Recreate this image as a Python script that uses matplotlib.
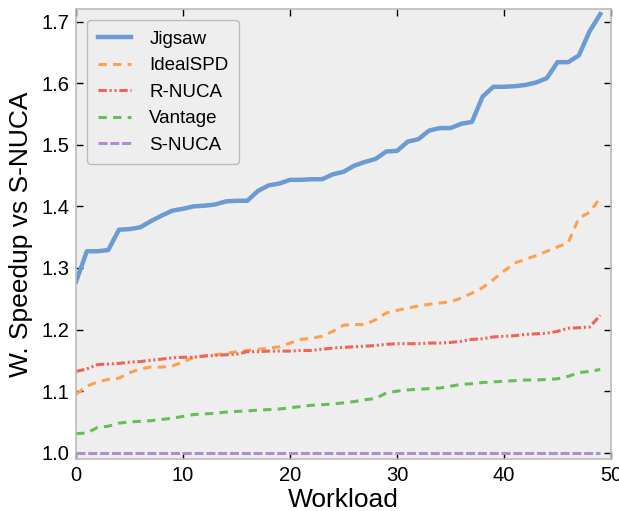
import numpy as np
import matplotlib
matplotlib.use("Agg")
from matplotlib import pyplot as plt

plt.rcParams["font.family"] = ["Liberation Sans", "DejaVu Sans"]
plt.rcParams["lines.scale_dashes"] = False

workload = np.arange(50)

jigsaw = [1.278, 1.327, 1.327, 1.329, 1.362, 1.363, 1.366, 1.376, 1.385, 1.393,
          1.396, 1.400, 1.401, 1.403, 1.408, 1.409, 1.409, 1.425, 1.434, 1.437,
          1.443, 1.443, 1.444, 1.444, 1.452, 1.456, 1.466, 1.472, 1.477, 1.489,
          1.490, 1.505, 1.509, 1.523, 1.527, 1.527, 1.534, 1.537, 1.578, 1.594,
          1.594, 1.595, 1.597, 1.601, 1.608, 1.634, 1.634, 1.645, 1.684, 1.712]

ideal_spd = [1.095, 1.108, 1.115, 1.119, 1.121, 1.130, 1.136, 1.139, 1.139, 1.141,
             1.147, 1.155, 1.157, 1.159, 1.161, 1.164, 1.166, 1.168, 1.170, 1.172,
             1.178, 1.184, 1.186, 1.189, 1.197, 1.207, 1.208, 1.208, 1.216, 1.227,
             1.231, 1.235, 1.238, 1.241, 1.243, 1.245, 1.251, 1.259, 1.268, 1.281,
             1.295, 1.308, 1.314, 1.320, 1.327, 1.334, 1.341, 1.381, 1.390, 1.414]

r_nuca = [1.132, 1.136, 1.143, 1.144, 1.145, 1.147, 1.148, 1.150, 1.152, 1.154,
          1.155, 1.155, 1.157, 1.158, 1.159, 1.160, 1.164, 1.164, 1.165, 1.165,
          1.165, 1.166, 1.166, 1.168, 1.170, 1.171, 1.172, 1.173, 1.174, 1.176,
          1.177, 1.177, 1.177, 1.178, 1.178, 1.179, 1.181, 1.184, 1.185, 1.188,
          1.189, 1.190, 1.192, 1.193, 1.194, 1.197, 1.202, 1.203, 1.204, 1.223]

vantage = [1.031, 1.032, 1.041, 1.043, 1.048, 1.050, 1.051, 1.052, 1.054, 1.056,
           1.059, 1.062, 1.063, 1.064, 1.066, 1.067, 1.068, 1.069, 1.070, 1.071,
           1.073, 1.075, 1.077, 1.078, 1.079, 1.081, 1.083, 1.086, 1.088, 1.097,
           1.100, 1.102, 1.103, 1.104, 1.105, 1.108, 1.111, 1.112, 1.114, 1.115,
           1.116, 1.117, 1.118, 1.118, 1.119, 1.120, 1.124, 1.130, 1.132, 1.135]

s_nuca = [1.0] * 50

fig = plt.figure(figsize=(6.19, 5.11), dpi=100)
ax = fig.add_axes([0.123, 0.102, 0.864, 0.880])
ax.set_facecolor("#eeeeee")

ax.plot(workload, jigsaw, color="#6a9bd2", lw=3.2, label="Jigsaw")
ax.plot(workload, ideal_spd, color="#ffa04f", lw=2.2, dashes=(6, 4.5), label="IdealSPD")
ax.plot(workload, r_nuca, color="#ee6457", lw=2.2, dashes=(6, 2, 1.5, 2, 1.5, 2), label="R-NUCA")
ax.plot(workload, vantage, color="#66be55", lw=2.2, dashes=(6, 4.5), label="Vantage")
ax.plot(workload, s_nuca, color="#b08cd2", lw=2.2, dashes=(6.5, 2), label="S-NUCA")

ax.set_xlim(0, 50)
ax.set_ylim(0.99, 1.72)
ax.set_xticks([0, 10, 20, 30, 40, 50])
ax.set_yticks([1.0, 1.1, 1.2, 1.3, 1.4, 1.5, 1.6, 1.7])
ax.tick_params(direction="in", top=True, right=True, length=5, width=1,
               labelsize=14.5, pad=5)

for sp in ax.spines.values():
    sp.set_color("#bbbbbb")
    sp.set_linewidth(1.2)

ax.set_xlabel("Workload", fontsize=19, labelpad=2)
ax.set_ylabel("W. Speedup vs S-NUCA", fontsize=19, labelpad=6)

leg = ax.legend(loc="upper left", fontsize=13.5, handlelength=1.75,
                borderpad=0.55, labelspacing=0.5, handletextpad=1.0,
                fancybox=True, framealpha=1, facecolor="#eeeeee",
                edgecolor="#bbbbbb", bbox_to_anchor=(0.0, 1.0),
                borderaxespad=0.6)
leg.get_frame().set_linewidth(1.0)

fig.savefig("out.png", dpi=100)
